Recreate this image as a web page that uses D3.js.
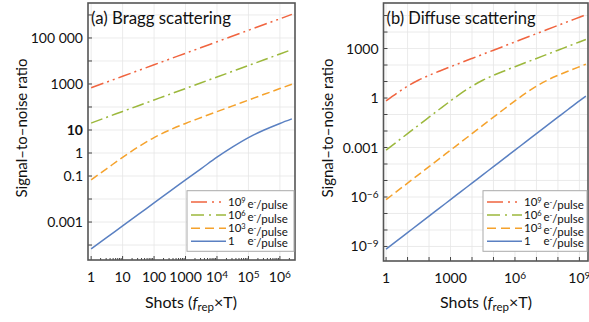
<!DOCTYPE html>
<html>
<head>
<meta charset="utf-8">
<script src="https://cdnjs.cloudflare.com/ajax/libs/d3/7.8.5/d3.min.js"></script>
<style>
  body { margin: 0; background: #fff; }
  svg { font-family: Lato, "Open Sans", sans-serif; fill: #111; }
</style>
</head>
<body>
<script>
// shot counts on the x axis (half-decade steps)
var shotsA = [1, 3.16, 10, 31.6, 100, 316, 1e3, 3160, 1e4, 31600, 1e5, 316000, 1e6, 2.4e6];
var shotsB = [1, 3.16, 10, 31.6, 100, 316, 1e3, 3160, 1e4, 31600, 1e5, 316000, 1e6, 3.16e6,
              1e7, 3.16e7, 1e8, 3.16e8, 1e9, 2e9];

// (a) Bragg scattering, signal-to-noise ratio
var braggE9 = [683, 1215, 2160, 3840, 6830, 12150, 21600, 38400, 68300, 121500, 216000, 384000, 683000, 1058000];
var braggE6 = [20, 36, 64, 114, 202, 358, 636, 1130, 2010, 3570, 6350, 11300, 20100, 31200];
var braggE3 = [0.068, 0.21, 0.65, 1.85, 4.7, 10, 19.3, 35, 63, 112, 200, 356, 632, 980];
var braggE0 = [6.8e-5, 2.14e-4, 6.8e-4, 2.14e-3, 6.8e-3, 0.0213, 0.068, 0.21, 0.66, 1.85, 4.7, 10, 19.3, 30.4];

// (b) Diffuse scattering, signal-to-noise ratio
var diffuseE9 = [0.667, 1.96, 5.21, 11.9, 23.6, 43.7, 78.9, 141, 251, 446, 794, 1411, 2510, 4463,
                 7937, 14114, 25100, 44634, 79373, 112250];
var diffuseE6 = [6.9e-4, 2.19e-3, 6.9e-3, 0.0219, 0.0689, 0.216, 0.667, 1.96, 5.21, 11.9, 23.6, 43.7,
                 78.9, 141, 251, 446, 794, 1411, 2510, 3550];
var diffuseE3 = [6.9e-7, 2.19e-6, 6.9e-6, 2.19e-5, 6.9e-5, 2.19e-4, 6.9e-4, 2.19e-3, 6.9e-3, 0.0219,
                 0.0689, 0.216, 0.667, 1.96, 5.21, 11.9, 23.6, 43.7, 78.9, 112];
var diffuseE0 = [6.9e-10, 2.19e-9, 6.9e-9, 2.19e-8, 6.9e-8, 2.19e-7, 6.9e-7, 2.19e-6, 6.9e-6, 2.19e-5,
                 6.9e-5, 2.19e-4, 6.9e-4, 2.19e-3, 6.9e-3, 0.0219, 0.0689, 0.216, 0.667, 1.29];

// legend: electrons per pulse
var legendBase = ["10", "10", "10", "1"];
var legendExp = ["9", "6", "3", ""];

// tick labels ("^" marks a superscript)
var xTicksA = [1, 10, 100, 1e3, 1e4, 1e5, 1e6];
var xLabelsA = ["1", "10", "100", "1000", "10^4", "10^5", "10^6"];
var yTicksA = [1e5, 1e3, 10, 1, 0.1, 1e-3];
var yLabelsA = ["100 000", "1000", "10", "1", "0.1", "0.001"];
var xTicksB = [1, 1e3, 1e6, 1e9];
var xLabelsB = ["1", "1000", "10^6", "10^9"];
var yTicksB = [1e3, 1, 1e-3, 1e-6, 1e-9];
var yLabelsB = ["1000", "1", "0.001", "10^\u22126", "10^\u22129"];

var colors = ["#f0643f", "#9cb83c", "#f5a22c", "#5a80c2"];
var dashes = ["13,4,2,4,2,4", "12,4,2,4", "8,4", null];
var legendDashes = ["16,5,2,5,2,5", "13,5,2,5", "9,5", null];

var svg = d3.select("body").append("svg")
    .attr("width", 589)
    .attr("height", 322);

// writes "base^sup" as text with a raised tspan
function supText(sel, label) {
  var parts = label.split("^");
  sel.append("tspan").text(parts[0]);
  if (parts.length > 1) {
    sel.append("tspan")
      .attr("dy", "-0.4em")
      .style("font-size", "0.72em")
      .text(parts[1]);
  }
}

function drawPanel(p) {
  var x = d3.scaleLog().domain(p.xDomain).range([p.left, p.right]);
  var y = d3.scaleLog().domain(p.yDomain).range([p.bottom, p.top]);
  var g = svg.append("g");

  // grid at every decade
  g.selectAll(".vgrid")
      .data(p.xGrid)
    .enter().append("line")
      .attr("x1", function(d) { return x(d); })
      .attr("x2", function(d) { return x(d); })
      .attr("y1", p.top).attr("y2", p.bottom)
      .style("stroke", "#e6e6e6").style("stroke-width", 0.8);
  g.selectAll(".hgrid")
      .data(p.yGrid)
    .enter().append("line")
      .attr("y1", function(d) { return y(d); })
      .attr("y2", function(d) { return y(d); })
      .attr("x1", p.left).attr("x2", p.right)
      .style("stroke", "#e6e6e6").style("stroke-width", 0.8);

  // ticks, drawn inward
  g.selectAll(".ytick")
      .data(p.yGrid)
    .enter().append("line")
      .attr("x1", p.left).attr("x2", p.left + 4)
      .attr("y1", function(d) { return y(d); })
      .attr("y2", function(d) { return y(d); })
      .style("stroke", "#444").style("stroke-width", 1);
  g.selectAll(".xtick")
      .data(p.xMinor)
    .enter().append("line")
      .attr("x1", function(d) { return x(d); })
      .attr("x2", function(d) { return x(d); })
      .attr("y1", p.bottom)
      .attr("y2", function(d) {
        var major = Math.abs(Math.log10(d) - Math.round(Math.log10(d))) < 1e-6;
        return p.bottom - (major ? 4 : 2);
      })
      .style("stroke", "#444").style("stroke-width", 1);

  // lines
  var line = d3.line()
      .x(function(d) { return x(d[0]); })
      .y(function(d) { return y(d[1]); })
      .curve(d3.curveMonotoneX);
  p.series.forEach(function(s, i) {
    g.append("path")
      .attr("d", line(d3.zip(p.shots, s)))
      .style("fill", "none")
      .style("stroke", colors[i])
      .style("stroke-width", 1.5)
      .style("stroke-dasharray", dashes[i]);
  });

  // frame
  g.append("rect")
      .attr("x", p.left).attr("y", p.top)
      .attr("width", p.right - p.left).attr("height", p.bottom - p.top)
      .style("fill", "none").style("stroke", "#555").style("stroke-width", 1.6);

  // tick labels
  p.xTicks.forEach(function(t, i) {
    var txt = g.append("text")
      .attr("x", x(t)).attr("y", p.bottom + 22)
      .style("text-anchor", "middle")
      .style("font-size", "14px");
    supText(txt, p.xLabels[i]);
  });
  p.yTicks.forEach(function(t, i) {
    var txt = g.append("text")
      .attr("x", p.left - 5).attr("y", y(t) + 5)
      .style("text-anchor", "end")
      .style("font-size", "14px")
      .style("font-weight", p.yLabels[i] == "10" ? "bold" : "normal");
    supText(txt, p.yLabels[i]);
  });

  // panel title
  g.append("text")
      .attr("x", p.left + 3).attr("y", 24)
      .attr("textLength", p.titleWidth)
      .attr("lengthAdjust", "spacingAndGlyphs")
      .style("font-size", "18px")
      .text(p.title);

  // axis titles
  g.append("text")
      .attr("transform", "translate(" + p.yTitleX + ",128) rotate(-90)")
      .attr("textLength", 139)
      .attr("lengthAdjust", "spacingAndGlyphs")
      .style("text-anchor", "middle")
      .style("font-size", "15.5px")
      .text("Signal\u2013to\u2013noise ratio");
  var xt = g.append("text")
      .attr("x", p.xTitleX).attr("y", 308)
      .attr("textLength", 92)
      .attr("lengthAdjust", "spacingAndGlyphs")
      .style("text-anchor", "middle")
      .style("font-size", "16px");
  xt.append("tspan").text("Shots (");
  xt.append("tspan").style("font-style", "italic").text("f");
  xt.append("tspan").attr("dy", "0.25em").style("font-size", "0.72em").text("rep");
  xt.append("tspan").attr("dy", "-0.18em").text("\u00d7T)");

  // legend
  var lg = g.append("g").attr("transform", "translate(" + p.legendX + ",190.7)");
  lg.append("rect")
      .attr("width", p.legendW).attr("height", 60.6)
      .style("fill", "#fff").style("stroke", "#aaa").style("stroke-width", 1);
  legendBase.forEach(function(b, i) {
    var yy = 11.3 + i * 13.1;
    lg.append("line")
      .attr("x1", 4).attr("x2", 39)
      .attr("y1", yy).attr("y2", yy)
      .style("stroke", colors[i])
      .style("stroke-width", 1.5)
      .style("stroke-dasharray", legendDashes[i]);
    var t = lg.append("text")
      .attr("x", 41).attr("y", yy + 4.2)
      .style("font-size", "11.5px");
    t.append("tspan").text(b);
    if (legendExp[i]) t.append("tspan").attr("dy", "-0.4em").style("font-size", "0.65em").text(legendExp[i]);
    t.append("tspan").attr("x", 60.5).attr("dy", legendExp[i] ? "0.4em" : 0).text("e");
    t.append("tspan").attr("dy", "-0.4em").style("font-size", "0.65em").text("-");
    t.append("tspan").attr("dy", "0.4em").text("/pulse");
  });
}

function decades(a, b) { return d3.range(a, b + 1).map(function(e) { return Math.pow(10, e); }); }
function minors(a, b) {
  var out = [];
  d3.range(a, b + 1).forEach(function(e) {
    for (var k = 1; k < 10; k++) out.push(k * Math.pow(10, e));
  });
  return out;
}

drawPanel({
  title: "(a) Bragg scattering", titleWidth: 140,
  left: 88, right: 295, top: 3, bottom: 260,
  xDomain: [Math.pow(10, -0.1), Math.pow(10, 6.48)],
  yDomain: [Math.pow(10, -4.65), Math.pow(10, 6.52)],
  xGrid: decades(0, 6), yGrid: decades(-4, 6),
  xMinor: minors(0, 6).filter(function(d) { return d < 3e6; }),
  xTicks: xTicksA, xLabels: xLabelsA, yTicks: yTicksA, yLabels: yLabelsA,
  shots: shotsA, series: [braggE9, braggE6, braggE3, braggE0],
  yTitleX: 27, xTitleX: 191, legendX: 187, legendW: 107
});

drawPanel({
  title: "(b) Diffuse scattering", titleWidth: 149,
  left: 383.5, right: 588, top: 3, bottom: 261,
  xDomain: [Math.pow(10, -0.12), Math.pow(10, 9.4)],
  yDomain: [Math.pow(10, -9.88), Math.pow(10, 5.76)],
  xGrid: decades(0, 9), yGrid: decades(-9, 5), xMinor: decades(0, 9),
  xTicks: xTicksB, xLabels: xLabelsB, yTicks: yTicksB, yLabels: yLabelsB,
  shots: shotsB, series: [diffuseE9, diffuseE6, diffuseE3, diffuseE0],
  yTitleX: 333, xTitleX: 486, legendX: 483, legendW: 104
});
</script>
</body>
</html>
